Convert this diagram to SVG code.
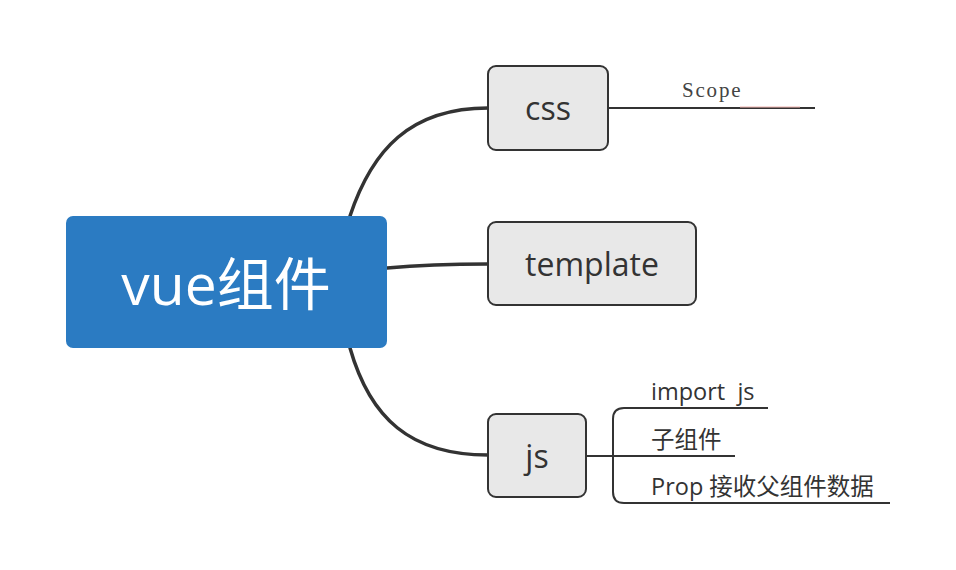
<svg xmlns="http://www.w3.org/2000/svg" width="956" height="570" viewBox="0 0 956 570">
<style>
.node rect{fill:#e8e8e8;stroke:#333;stroke-width:2}
.lbl{font-family:"Open Sans","Noto Sans","Noto Sans CJK SC",sans-serif;fill:#333}
.big{stroke:#333;stroke-width:3.5;fill:none;stroke-linecap:round}
.thin{stroke:#333;stroke-width:2;fill:none}
</style>
<rect width="956" height="570" fill="#fff"/>
<g id="connectors">
<path class="big" d="M350,216 C372,150 410,108 488,108"/>
<path class="big" d="M387,268 C420,265 440,264 488,264"/>
<path class="big" d="M350,348 C370,418 410,455 488,455"/>
<path class="thin" d="M608,108 L815,108"/>
<path d="M740,107 L800,107" stroke="#f3b9b4" stroke-width="1.5" opacity="0.7"/>
<path class="thin" d="M586,456 L735,456"/>
<path class="thin" d="M768,408 L624,408 Q613,408 613,419 L613,492 Q613,503 624,503 L890,503"/>
</g>
<g id="root">
<rect x="66" y="216" width="321" height="132" rx="7" fill="#2b7bc2"/>
<text x="226" y="305" text-anchor="middle" font-family="Open Sans, Noto Sans CJK SC, sans-serif" font-size="57" fill="#fff">vue组件</text>
</g>
<g id="css" class="node">
<rect x="488" y="66" width="120" height="84" rx="8"/>
<text class="lbl" x="548" y="120" text-anchor="middle" font-size="32">css</text>
</g>
<g id="template" class="node">
<rect x="488" y="222" width="208" height="83" rx="8"/>
<text class="lbl" x="592" y="276" text-anchor="middle" font-size="32">template</text>
</g>
<g id="js" class="node">
<rect x="488" y="414" width="98" height="83" rx="8"/>
<text class="lbl" x="537" y="468" text-anchor="middle" font-size="32">js</text>
</g>
<g id="scope">
<text x="682" y="97" font-family="Liberation Serif, serif" font-size="21" letter-spacing="1.8" fill="#444">Scope</text>
</g>
<g id="import-js">
<text class="lbl" x="651" y="400" font-size="23.5" xml:space="preserve">import  js</text>
</g>
<g id="child">
<text class="lbl" x="651" y="448" font-size="23.5">子组件</text>
</g>
<g id="prop">
<text class="lbl" x="651" y="495" font-size="23.5">Prop 接收父组件数据</text>
</g>
</svg>
